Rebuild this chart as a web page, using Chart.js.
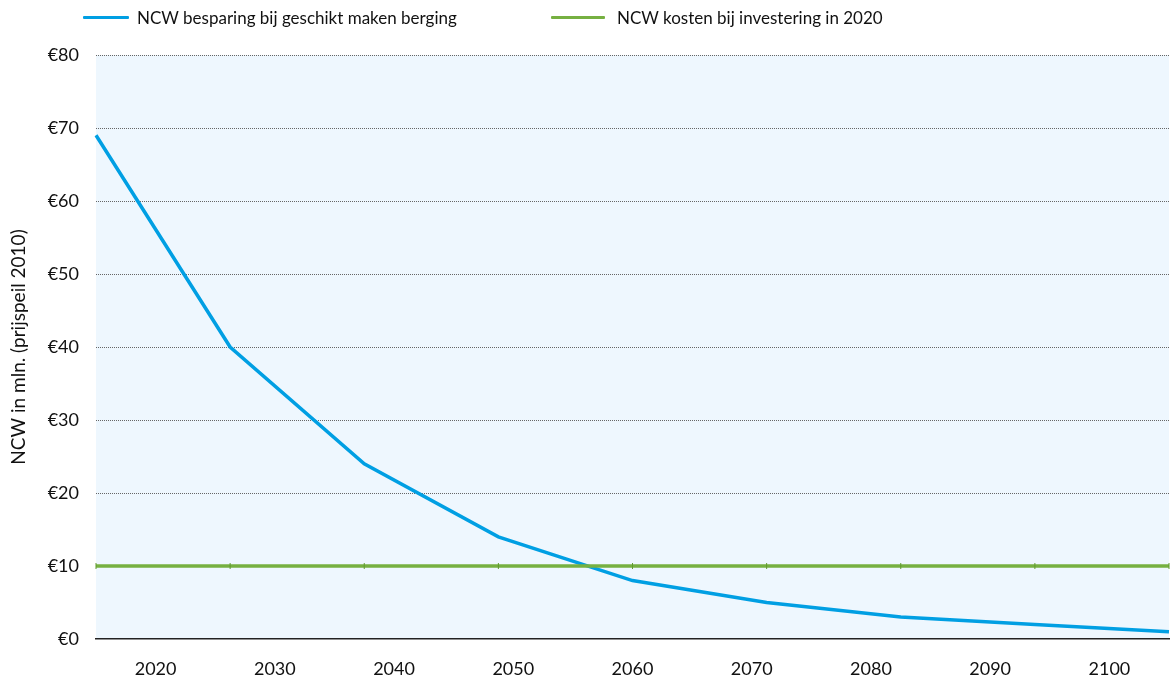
<!DOCTYPE html>
<html lang="nl">
  <head>
    <meta charset="UTF-8" />
    <title>NCW besparing</title>
    <script src="https://cdn.jsdelivr.net/npm/chart.js@4.5.0/dist/chart.umd.min.js"></script>
    <style>
      body { margin: 0; background: #fff; font-family: Lato, sans-serif; }
      #wrap { position: relative; width: 1174px; height: 679px; }
      .leg { position: absolute; top: 5px; height: 24px; display: flex; align-items: center; font-size: 17px; color: #111; white-space: nowrap; }
      .leg i { display: inline-block; height: 3px; margin-right: 8px; border-radius: 1px; }
    </style>
  </head>
  <body>
    <div id="wrap">
      <canvas id="myChart" width="1174" height="679"></canvas>
      <div id="leg1" class="leg" style="left: 83px"></div>
      <div id="leg2" class="leg" style="left: 551px"></div>
    </div>

    <script>
      // x-as labels (onder) en punten van de reeksen
      const yearLabels = ["2020", "2030", "2040", "2050", "2060", "2070", "2080", "2090", "2100"];
      const pointLabels = ["p1", "p2", "p3", "p4", "p5", "p6", "p7", "p8", "p9"];
      const besparing = [69, 40, 24, 14, 8, 5, 3, 2, 1];
      const kosten = [10, 10, 10, 10, 10, 10, 10, 10, 10];

      const names = ["NCW besparing bij geschikt maken berging", "NCW kosten bij investering in 2020"];
      const colors = ["#009fe3", "#76b041"];

      // legenda
      document.getElementById("leg1").innerHTML = '<i style="width:46px;background:' + colors[0] + '"></i>' + names[0];
      document.getElementById("leg2").innerHTML = '<i style="width:54px;background:' + colors[1] + ';margin-right:12px"></i>' + names[1];

      const bgPlugin = {
        id: "bg",
        beforeDraw(chart) {
          const a = chart.chartArea;
          const c = chart.ctx;
          c.save();
          c.fillStyle = "#eef7fe";
          c.fillRect(a.left, a.top, a.right - a.left, a.bottom - a.top);
          c.restore();
        },
      };

      Chart.defaults.font.family = "Lato, sans-serif";
      Chart.defaults.font.size = 18;
      Chart.defaults.color = "#111";

      const ctx = document.getElementById("myChart");
      new Chart(ctx, {
        type: "line",
        data: {
          labels: pointLabels,
          datasets: [
            {
              label: names[1],
              data: kosten,
              borderColor: colors[1],
              backgroundColor: colors[1],
              borderWidth: 3.5,
              pointStyle: "line",
              rotation: 90,
              pointRadius: 3,
              pointBorderWidth: 1,
              pointBorderColor: "#5f9a2c",
              xAxisID: "x",
            },
            {
              label: names[0],
              data: besparing,
              borderColor: colors[0],
              backgroundColor: colors[0],
              borderWidth: 3.5,
              pointRadius: 0,
              xAxisID: "x",
            },
          ],
        },
        options: {
          responsive: false,
          animation: false,
          layout: { padding: { top: 55, right: 3, left: 0, bottom: 0 } },
          plugins: { legend: { display: false }, tooltip: { enabled: false } },
          scales: {
            x: {
              type: "category",
              display: false,
              offset: false,
            },
            years: {
              type: "category",
              position: "bottom",
              labels: yearLabels,
              offset: true,
              grid: { display: false, drawTicks: false },
              border: { display: true, color: "#222", width: 1.5 },
              ticks: { padding: 19, maxRotation: 0 },
              afterFit(scale) {
                scale.height = 40;
              },
            },
            y: {
              min: 0,
              max: 80,
              ticks: {
                stepSize: 10,
                padding: 17,
                callback: (v) => "€" + v,
              },
              grid: {
                drawTicks: false,
                color: (c) => (c.tick && c.tick.value === 0 ? "rgba(0,0,0,0)" : "#666"),
                lineWidth: 1,
              },
              border: { display: false, dash: [1, 1] },
              title: {
                display: true,
                text: "NCW in mln. (prijspeil 2010)",
                font: { size: 19 },
                padding: { top: 7, bottom: 10 },
              },
              afterFit(scale) {
                scale.width = 96;
              },
            },
          },
        },
        plugins: [bgPlugin],
      });
    </script>
  </body>
</html>
